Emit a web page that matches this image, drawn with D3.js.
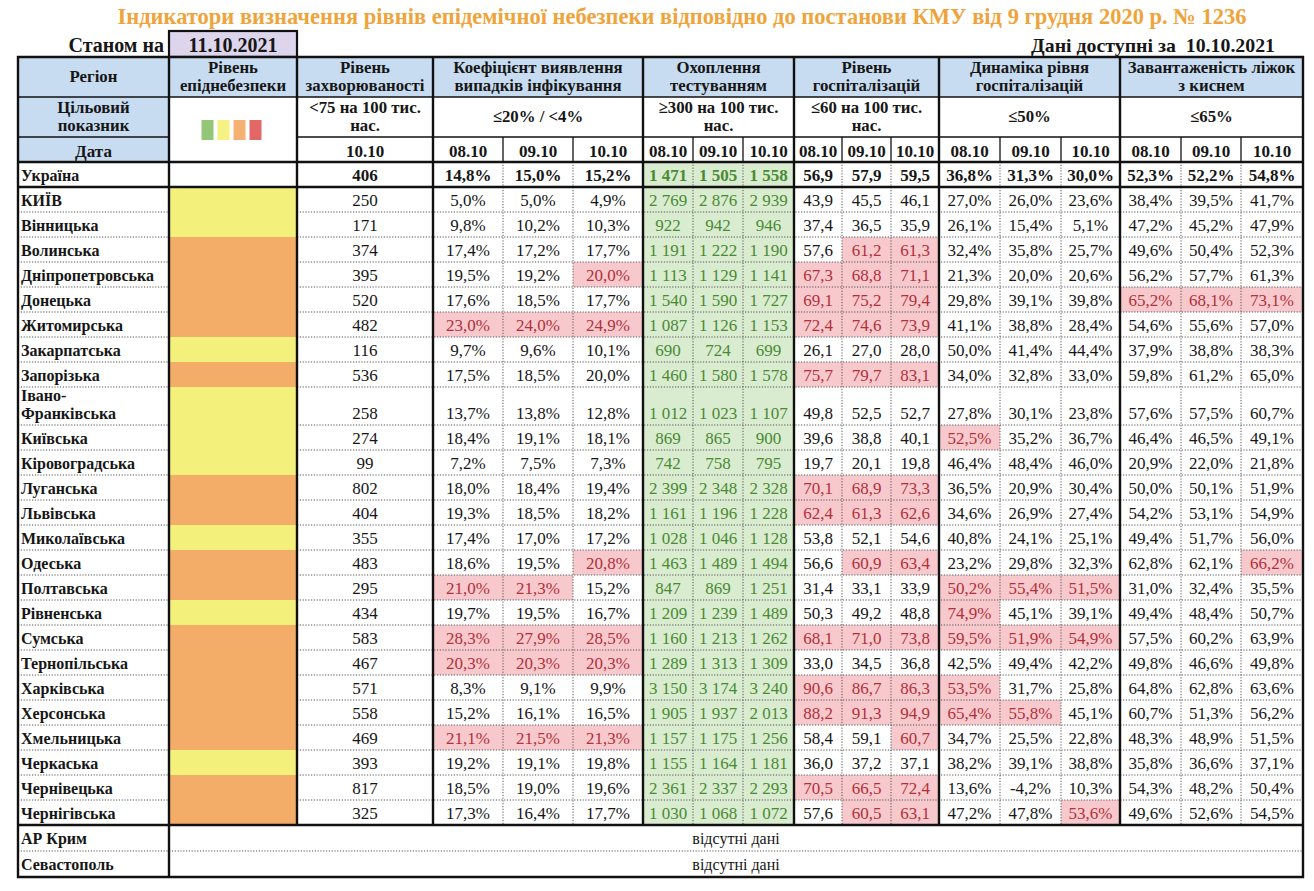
<!DOCTYPE html>
<html><head><meta charset="utf-8">
<script src="https://cdn.jsdelivr.net/npm/d3@7"></script>
<style>
body{margin:0;background:#fff}
svg{display:block}
</style>
</head><body>
<svg id="c" width="1314" height="891"></svg>
<script>
// ---------------- DATA ----------------
const titleText = "Індикатори визначення рівнів епідемічної небезпеки відповідно до постанови КМУ від 9 грудня 2020 р. № 1236";
const asOfLabel = "Станом на";
const asOfDate = "11.10.2021";
const availableText = "Дані доступні за  10.10.2021";

const regions = ["Україна","КИЇВ","Вінницька","Волинська","Дніпропетровська","Донецька","Житомирська","Закарпатська","Запорізька","Івано-Франківська","Київська","Кіровоградська","Луганська","Львівська","Миколаївська","Одеська","Полтавська","Рівненська","Сумська","Тернопільська","Харківська","Херсонська","Хмельницька","Черкаська","Чернівецька","Чернігівська"];
const levels = ["","yellow","yellow","orange","orange","orange","orange","yellow","orange","yellow","yellow","yellow","orange","orange","yellow","orange","orange","yellow","orange","orange","orange","orange","orange","yellow","orange","orange"];
const incidence = [406,250,171,374,395,520,482,116,536,258,274,99,802,404,355,483,295,434,583,467,571,558,469,393,817,325];

const detection08 = [14.8,5.0,9.8,17.4,19.5,17.6,23.0,9.7,17.5,13.7,18.4,7.2,18.0,19.3,17.4,18.6,21.0,19.7,28.3,20.3,8.3,15.2,21.1,19.2,18.5,17.3];
const detection09 = [15.0,5.0,10.2,17.2,19.2,18.5,24.0,9.6,18.5,13.8,19.1,7.5,18.4,18.5,17.0,19.5,21.3,19.5,27.9,20.3,9.1,16.1,21.5,19.1,19.0,16.4];
const detection10 = [15.2,4.9,10.3,17.7,20.0,17.7,24.9,10.1,20.0,12.8,18.1,7.3,19.4,18.2,17.2,20.8,15.2,16.7,28.5,20.3,9.9,16.5,21.3,19.8,19.6,17.7];
const detectionExtraFlags = [["Дніпропетровська",2]];

const testing08 = [1471,2769,922,1191,1113,1540,1087,690,1460,1012,869,742,2399,1161,1028,1463,847,1209,1160,1289,3150,1905,1157,1155,2361,1030];
const testing09 = [1505,2876,942,1222,1129,1590,1126,724,1580,1023,865,758,2348,1196,1046,1489,869,1239,1213,1313,3174,1937,1175,1164,2337,1068];
const testing10 = [1558,2939,946,1190,1141,1727,1153,699,1578,1107,900,795,2328,1228,1128,1494,1251,1489,1262,1309,3240,2013,1256,1181,2293,1072];

const hosp08 = [56.9,43.9,37.4,57.6,67.3,69.1,72.4,26.1,75.7,49.8,39.6,19.7,70.1,62.4,53.8,56.6,31.4,50.3,68.1,33.0,90.6,88.2,58.4,36.0,70.5,57.6];
const hosp09 = [57.9,45.5,36.5,61.2,68.8,75.2,74.6,27.0,79.7,52.5,38.8,20.1,68.9,61.3,52.1,60.9,33.1,49.2,71.0,34.5,86.7,91.3,59.1,37.2,66.5,60.5];
const hosp10 = [59.5,46.1,35.9,61.3,71.1,79.4,73.9,28.0,83.1,52.7,40.1,19.8,73.3,62.6,54.6,63.4,33.9,48.8,73.8,36.8,86.3,94.9,60.7,37.1,72.4,63.1];

const hospDyn08 = [36.8,27.0,26.1,32.4,21.3,29.8,41.1,50.0,34.0,27.8,52.5,46.4,36.5,34.6,40.8,23.2,50.2,74.9,59.5,42.5,53.5,65.4,34.7,38.2,13.6,47.2];
const hospDyn09 = [31.3,26.0,15.4,35.8,20.0,39.1,38.8,41.4,32.8,30.1,35.2,48.4,20.9,26.9,24.1,29.8,55.4,45.1,51.9,49.4,31.7,55.8,25.5,39.1,-4.2,47.8];
const hospDyn10 = [30.0,23.6,5.1,25.7,20.6,39.8,28.4,44.4,33.0,23.8,36.7,46.0,30.4,27.4,25.1,32.3,51.5,39.1,54.9,42.2,25.8,45.1,22.8,38.8,10.3,53.6];

const oxygen08 = [52.3,38.4,47.2,49.6,56.2,65.2,54.6,37.9,59.8,57.6,46.4,20.9,50.0,54.2,49.4,62.8,31.0,49.4,57.5,49.8,64.8,60.7,48.3,35.8,54.3,49.6];
const oxygen09 = [52.2,39.5,45.2,50.4,57.7,68.1,55.6,38.8,61.2,57.5,46.5,22.0,50.1,53.1,51.7,62.1,32.4,48.4,60.2,46.6,62.8,51.3,48.9,36.6,48.2,52.6];
const oxygen10 = [54.8,41.7,47.9,52.3,61.3,73.1,57.0,38.3,65.0,60.7,49.1,21.8,51.9,54.9,56.0,66.2,35.5,50.7,63.9,49.8,63.6,56.2,51.5,37.1,50.4,54.5];

const missingRegions = ["АР Крим","Севастополь"];
const missingText = "відсутні дані";

const dates = ["08.10","09.10","10.10"];
const incidenceDate = "10.10";
const headRegion = "Регіон";
const headLevel = ["Рівень","епіднебезпеки"];
const headIncidence = ["Рівень","захворюваності"];
const headTarget = ["Цільовий","показник"];
const headDate = "Дата";
const incidenceTarget = ["<75 на 100 тис.","нас."];
const groupTitles = [["Коефіцієнт виявлення","випадків інфікування"],["Охоплення","тестуванням"],["Рівень","госпіталізацій"],["Динаміка рівня","госпіталізацій"],["Завантаженість ліжок","з киснем"]];
const groupTargets = [["≤20% / <4%"],["≥300 на 100 тис.","нас."],["≤60 на 100 тис.","нас."],["≤50%"],["≤65%"]];
const legendLevels = ["green","yellow","orange","red"];

// ---------------- STYLE / LAYOUT ----------------
const FONT = "'Liberation Serif', 'DejaVu Serif', 'Times New Roman', serif";
const C = {
  title:"#EFA43B", blue:"#C8DCF1", purple:"#DCD5EB",
  yellow:"#F4F07C", orange:"#F4AD69", green:"#8DC470", red:"#E0605F",
  testBg:"#D9ECD0", testTx:"#4A8A33", badBg:"#F7C9CC", badTx:"#B2303B", tx:"#161616"
};
const svg = d3.select("#c").attr("font-family", FONT).style("font-family", FONT);
const fl = d3.formatLocale({decimal:",", thousands:"\u00a0", grouping:[3], currency:["",""], minus:"-"});
const f1 = fl.format(".1f"), fInt = fl.format(",d");
const fPct = v => f1(v) + "%";

const colKeys = ["region","level","inc"];
const groupKeys = ["det","test","hosp","dyn","oxy"];
groupKeys.forEach(g => dates.forEach((d,j) => colKeys.push(g + j)));
const colWidths = [151,128,136,70,70,70,50,50,51,48,49,48,61,61,59,61,60,62];
const left = 18;
const starts = Array.from(d3.cumsum([0].concat(colWidths))).map(v => v + left);
const xS = d3.scaleOrdinal().domain(colKeys).range(starts.slice(0,-1));
const wS = d3.scaleOrdinal().domain(colKeys).range(colWidths);
const right = starts[starts.length-1];

const rowKeys = regions.concat(missingRegions);
const rowHeights = rowKeys.map(r => r === "Івано-Франківська" ? 38 : (missingRegions.includes(r) ? 26 : 25));
const top0 = 162;
const rowStarts = Array.from(d3.cumsum([0].concat(rowHeights))).map(v => v + top0);
const yS = d3.scaleOrdinal().domain(rowKeys).range(rowStarts.slice(0,-1));
const hS = d3.scaleOrdinal().domain(rowKeys).range(rowHeights);
const bottom = rowStarts[rowStarts.length-1];
const dataBottom = yS(missingRegions[0]);

const H = {dateTop:31, r1:57, r2:97, r3:137, r4:162};

function text(x, y, s, o = {}) {
  return svg.append("text").attr("x", x).attr("y", y).text(s)
    .attr("font-family", FONT).style("font-family", FONT)
    .attr("text-anchor", o.anchor || "middle")
    .attr("font-size", o.size || 15)
    .attr("font-weight", o.bold ? "bold" : "normal")
    .attr("fill", o.fill || C.tx);
}
function fitText(t, w) {
  const l = t.node().getComputedTextLength();
  const fs = +t.attr("font-size");
  t.attr("font-size", fs * w / l);
}

// ---------------- TITLE ----------------
const tt = text(682, 24, titleText, {size:21, bold:true, fill:C.title});
fitText(tt, 1130);

text(164, 52, asOfLabel, {size:20, bold:true, anchor:"end"});
svg.append("rect").attr("x", xS("level")).attr("y", H.dateTop).attr("width", wS("level")).attr("height", H.r1 - H.dateTop)
  .attr("fill", C.purple).attr("stroke", "#111").attr("stroke-width", 2.2);
text(xS("level") + wS("level")/2, 52, asOfDate, {size:20, bold:true});
const av = text(1275, 52, availableText, {size:19, bold:true, anchor:"end"});
av.style("white-space","pre");
fitText(av, 244);

// ---------------- HEADER FILLS ----------------
svg.append("rect").attr("x", left).attr("y", H.r1).attr("width", right-left).attr("height", H.r2-H.r1).attr("fill", C.blue);
svg.append("rect").attr("x", left).attr("y", H.r2).attr("width", wS("region")).attr("height", H.r4-H.r2).attr("fill", C.blue);

// ---------------- CELL FILLS ----------------
const series = {
  det:[detection08,detection09,detection10], test:[testing08,testing09,testing10],
  hosp:[hosp08,hosp09,hosp10], dyn:[hospDyn08,hospDyn09,hospDyn10], oxy:[oxygen08,oxygen09,oxygen10]
};
const fmts = {det:fPct, test:fInt, hosp:f1, dyn:fPct, oxy:fPct};
const limits = {det:20, hosp:60, dyn:50, oxy:65};
function flagged(g, i, j) {
  if (i === 0 || g === "test") return false;
  if (g === "det" && detectionExtraFlags.some(e => e[0] === regions[i] && e[1] === j)) return true;
  return series[g][j][i] > limits[g];
}

regions.forEach((r, i) => {
  if (levels[i]) svg.append("rect").attr("x", xS("level")).attr("y", yS(r)).attr("width", wS("level")).attr("height", hS(r)).attr("fill", C[levels[i]]);
  groupKeys.forEach(g => dates.forEach((d, j) => {
    const k = g + j;
    let fill = null;
    if (g === "test") fill = C.testBg;
    else if (flagged(g, i, j)) fill = C.badBg;
    if (fill) svg.append("rect").attr("x", xS(k)).attr("y", yS(r)).attr("width", wS(k)).attr("height", hS(r)).attr("fill", fill);
  }));
});

// legend squares
legendLevels.forEach((c, i) => {
  svg.append("rect").attr("x", 201.5 + i*16).attr("y", 120).attr("width", 12).attr("height", 20).attr("fill", C[c]).attr("opacity", 0.95);
});

// ---------------- HEADER TEXT ----------------
const hb = {size:16.8, bold:true};
const hd = {size:17, bold:true};
const cx = k => xS(k) + wS(k)/2;
text(cx("region"), 82, headRegion, hb);
text(cx("level"), 73, headLevel[0], hb); text(cx("level"), 91, headLevel[1], hb);
text(cx("inc"), 73, headIncidence[0], hb); text(cx("inc"), 91, headIncidence[1], hb);
text(cx("region"), 113, headTarget[0], hb); text(cx("region"), 131, headTarget[1], hb);
text(cx("region"), 156.5, headDate, hd);
text(cx("inc"), 113, incidenceTarget[0], hb); text(cx("inc"), 131, incidenceTarget[1], hb);
text(cx("inc"), 156.5, incidenceDate, hd);
groupKeys.forEach((g, gi) => {
  const gx = (xS(g+"0") + xS(g+"2") + wS(g+"2")) / 2;
  const t = groupTitles[gi];
  text(gx, 73, t[0], hb); text(gx, 91, t[1], hb);
  const tg = groupTargets[gi];
  if (tg.length === 2) { text(gx, 113, tg[0], hb); text(gx, 131, tg[1], hb); }
  else text(gx, 122, tg[0], hb);
  dates.forEach((d, j) => text(cx(g+j), 156.5, d, hd));
});

// ---------------- DATA TEXT ----------------
regions.forEach((r, i) => {
  const base = yS(r) + hS(r) - 6;
  const bold = i === 0;
  if (r.includes("-") && hS(r) > 30) {
    const parts = r.split("-");
    text(21, base - 18, parts[0] + "-", {size:16, bold:true, anchor:"start"});
    text(21, base, parts[1], {size:16, bold:true, anchor:"start"});
  } else text(21, base, r, {size:16, bold:true, anchor:"start"});
  text(cx("inc"), base, fInt(incidence[i]), {size:17, bold});
  groupKeys.forEach(g => dates.forEach((d, j) => {
    const v = series[g][j][i];
    let fill = C.tx;
    if (g === "test") fill = C.testTx;
    else if (flagged(g, i, j)) fill = C.badTx;
    text(cx(g+j), base, fmts[g](v), {size:17, bold, fill});
  }));
});
missingRegions.forEach(r => {
  const base = yS(r) + hS(r) - 7;
  text(21, base, r, {size:16, bold:true, anchor:"start"});
  text((xS("level") + right)/2, base, missingText, {size:16});
});

// ---------------- GRID LINES ----------------
function line(x1, y1, x2, y2, w, dash) {
  const l = svg.append("line").attr("x1", x1).attr("y1", y1).attr("x2", x2).attr("y2", y2)
    .attr("stroke", dash ? "#555" : "#111").attr("stroke-width", w);
  if (dash) l.attr("stroke-dasharray", dash);
  return l;
}
const thick = 2.4, thin = 1.3, dot = "1.2,1.6";
rowKeys.forEach((r, i) => {
  if (i < 2 || r === missingRegions[0]) return;
  const y = yS(r);
  if (missingRegions.includes(r)) { line(left, y, right, y, 1, dot); return; }
  line(left, y, xS("level"), y, 1, dot);
  line(xS("inc"), y, right, y, 1, dot);
});
groupKeys.forEach(g => [1,2].forEach(j => {
  line(xS(g+j), H.r4, xS(g+j), dataBottom, 1, dot);
  line(xS(g+j), H.r3, xS(g+j), H.r4, thin);
}));
line(left, H.r2, right, H.r2, thin);
line(left, H.r3, xS("level"), H.r3, thin);
line(xS("inc"), H.r3, right, H.r3, thin);
[H.r1, H.r4, yS(regions[1]), dataBottom, bottom].forEach(y => line(left - 1, y, right + 1, y, thick));
const groupEdges = ["level","inc","det0","test0","hosp0","dyn0","oxy0"].map(k => xS(k));
groupEdges.forEach((x, i) => line(x, H.r1, x, i === 0 ? bottom : dataBottom, thick));
line(left, H.r1 - 1, left, bottom + 1, thick);
line(right, H.r1 - 1, right, bottom + 1, thick);
</script>
</body></html>
